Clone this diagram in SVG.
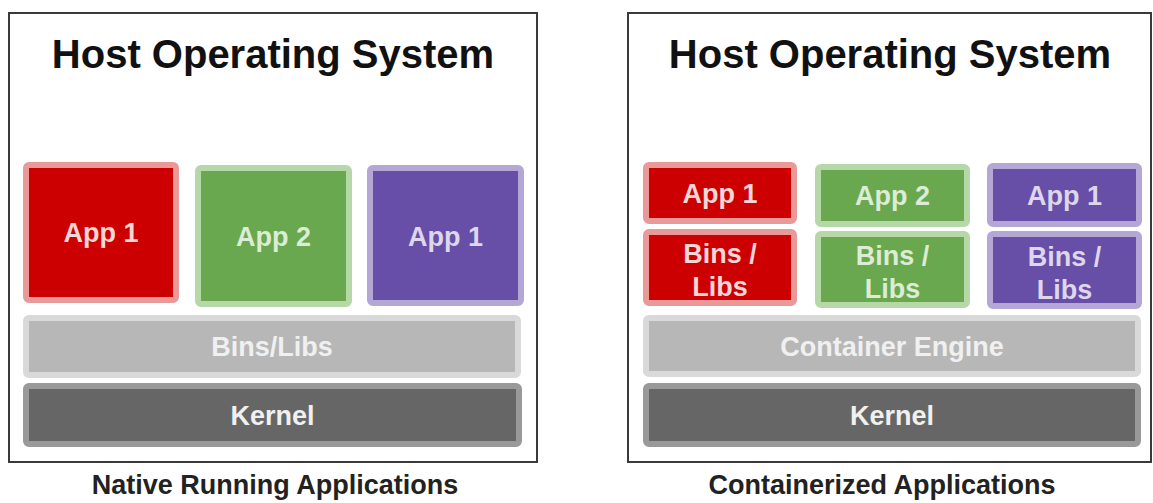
<svg xmlns="http://www.w3.org/2000/svg" width="1153" height="503" viewBox="0 0 1153 503">
<style>
text{font-family:"Liberation Sans",Arial,sans-serif;font-weight:bold;text-anchor:middle}
.frame{fill:#fff;stroke:#3a3a3a;stroke-width:2}
.title{font-size:40px;fill:#111}
.caption{font-size:27px;fill:#222}
.lbl{font-size:27px}
.red{fill:#cc0000;stroke:#ea9999;stroke-width:6}
.green{fill:#6aa84f;stroke:#b6d7a8;stroke-width:6}
.purple{fill:#674ea7;stroke:#b4a7d6;stroke-width:6}
.light{fill:#b7b7b7;stroke:#d9d9d9;stroke-width:6}
.dark{fill:#666666;stroke:#999999;stroke-width:6}
.tred{fill:#f6d6d6}
.tgreen{fill:#dcecd5}
.tpurple{fill:#ddd6ec}
.tgray{fill:#f0f0f0}
</style>
<rect width="1153" height="503" fill="#fff"/>

<g id="native-host">
<rect class="frame" x="9" y="13" width="528" height="449"/>
<text class="title" x="273" y="68">Host Operating System</text>
</g>
<g id="native-app1">
<rect class="red" x="26" y="165" width="150" height="135" rx="3"/>
<text class="lbl tred" x="101" y="242">App 1</text>
</g>
<g id="native-app2">
<rect class="green" x="198" y="168" width="151" height="136" rx="3"/>
<text class="lbl tgreen" x="273.5" y="246">App 2</text>
</g>
<g id="native-app3">
<rect class="purple" x="370" y="168" width="151" height="135" rx="3"/>
<text class="lbl tpurple" x="445.5" y="246">App 1</text>
</g>
<g id="native-bins">
<rect class="light" x="26" y="318" width="492" height="57" rx="3"/>
<text class="lbl tgray" x="272" y="356">Bins/Libs</text>
</g>
<g id="native-kernel">
<rect class="dark" x="26" y="386" width="493" height="58" rx="3"/>
<text class="lbl tgray" x="272.5" y="425">Kernel</text>
</g>
<g id="native-caption">
<text class="caption" x="275" y="494">Native Running Applications</text>
</g>

<g id="container-host">
<rect class="frame" x="628" y="13" width="523" height="449"/>
<text class="title" x="890" y="68">Host Operating System</text>
</g>
<g id="container-app1">
<rect class="red" x="646" y="165" width="148" height="56" rx="3"/>
<text class="lbl tred" x="720" y="203">App 1</text>
</g>
<g id="container-bins1">
<rect class="red" x="646" y="232" width="148" height="71" rx="3"/>
<text class="lbl tred" x="720" y="263">Bins /</text>
<text class="lbl tred" x="720" y="296">Libs</text>
</g>
<g id="container-app2">
<rect class="green" x="818" y="167" width="149" height="57" rx="3"/>
<text class="lbl tgreen" x="892.5" y="205">App 2</text>
</g>
<g id="container-bins2">
<rect class="green" x="818" y="234" width="149" height="71" rx="3"/>
<text class="lbl tgreen" x="892.5" y="265">Bins /</text>
<text class="lbl tgreen" x="892.5" y="298">Libs</text>
</g>
<g id="container-app3">
<rect class="purple" x="990" y="166" width="149" height="58" rx="3"/>
<text class="lbl tpurple" x="1064.5" y="205">App 1</text>
</g>
<g id="container-bins3">
<rect class="purple" x="990" y="234" width="149" height="72" rx="3"/>
<text class="lbl tpurple" x="1064.5" y="266">Bins /</text>
<text class="lbl tpurple" x="1064.5" y="299">Libs</text>
</g>
<g id="container-engine">
<rect class="light" x="646" y="318" width="492" height="56" rx="3"/>
<text class="lbl tgray" x="892" y="356">Container Engine</text>
</g>
<g id="container-kernel">
<rect class="dark" x="646" y="386" width="492" height="58" rx="3"/>
<text class="lbl tgray" x="892" y="425">Kernel</text>
</g>
<g id="container-caption">
<text class="caption" x="882" y="494">Containerized Applications</text>
</g>

<g id="connectors"/>
</svg>
